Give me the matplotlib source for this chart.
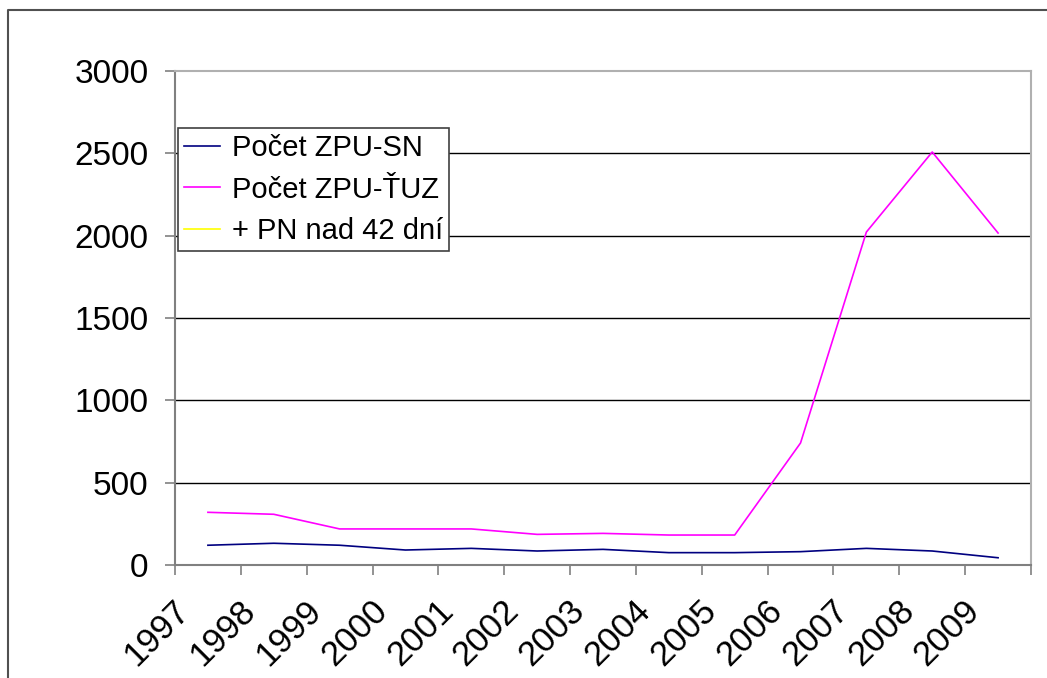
import numpy as np
import matplotlib
matplotlib.use("Agg")
import matplotlib.pyplot as plt
from matplotlib.lines import Line2D
from matplotlib.transforms import ScaledTranslation

plt.rcParams['font.family'] = ['Liberation Sans', 'DejaVu Sans']

years = ['1997', '1998', '1999', '2000', '2001', '2002', '2003',
         '2004', '2005', '2006', '2007', '2008', '2009']
zpu_sn = [120, 132, 120, 91, 101, 85, 95, 75, 75, 81, 101, 85, 44]
zpu_tuz = [320, 308, 219, 219, 219, 186, 192, 182, 182, 741, 2022, 2508, 2016]
pn_42 = [None] * 13

labels = ['Počet ZPU-SN', 'Počet ZPU-ŤUZ', '+ PN nad 42 dní']
colors = ['#000080', '#FF00FF', '#FFFF00']
yticks = [0, 500, 1000, 1500, 2000, 2500, 3000]

W, H = 1047, 678
fig = plt.figure(figsize=(W / 100, H / 100), dpi=100)
ax = fig.add_axes([175 / W, (H - 565) / H, (1031 - 175) / W, 494 / H])

x = np.arange(len(years)) + 0.5
for vals, lab, col in zip([zpu_sn, zpu_tuz, pn_42], labels, colors):
    v = np.array([np.nan if a is None else a for a in vals], dtype=float)
    ax.plot(x, v, color=col, lw=1.2, label=lab, zorder=3)

ax.set_xlim(0, len(years))
ax.set_ylim(0, 3000)
ax.set_yticks(yticks)
ax.set_yticklabels([str(t) for t in yticks], fontsize=24)
for t in yticks[1:-1]:
    ax.axhline(t, color='black', lw=1.0, zorder=1)

ax.set_xticks(np.arange(len(years) + 1))
ax.set_xticklabels([])
ax.tick_params(axis='both', direction='out', length=7, width=1.2, color='#808080')
ax.tick_params(axis='y', pad=12)

for s in ['left', 'bottom']:
    ax.spines[s].set_color('#808080')
    ax.spines[s].set_linewidth(1.5)
for s in ['top', 'right']:
    ax.spines[s].set_color('#b0b0b0')
    ax.spines[s].set_linewidth(1.5)

off = ScaledTranslation(-35 / 100, -29 / 100, fig.dpi_scale_trans)
for xi, lab in zip(x, years):
    ax.text(xi, 0, lab, transform=ax.get_xaxis_transform() + off,
            rotation=45, ha='right', va='top', rotation_mode='anchor',
            fontsize=25, color='black')

leg = ax.legend(loc='upper left', bbox_to_anchor=(0.0035, 0.8846),
                borderaxespad=0, fontsize=21, handlelength=1.25,
                handletextpad=0.4, labelspacing=0.47, fancybox=False,
                framealpha=1, edgecolor='#404040', borderpad=0.2)
leg.get_frame().set_linewidth(1.2)

fig.add_artist(Line2D([8 / W, 8 / W, 1.0], [0, 1 - 10 / H, 1 - 10 / H],
                      transform=fig.transFigure, color='#505050', lw=1.5))

fig.savefig('out.png', dpi=100)
